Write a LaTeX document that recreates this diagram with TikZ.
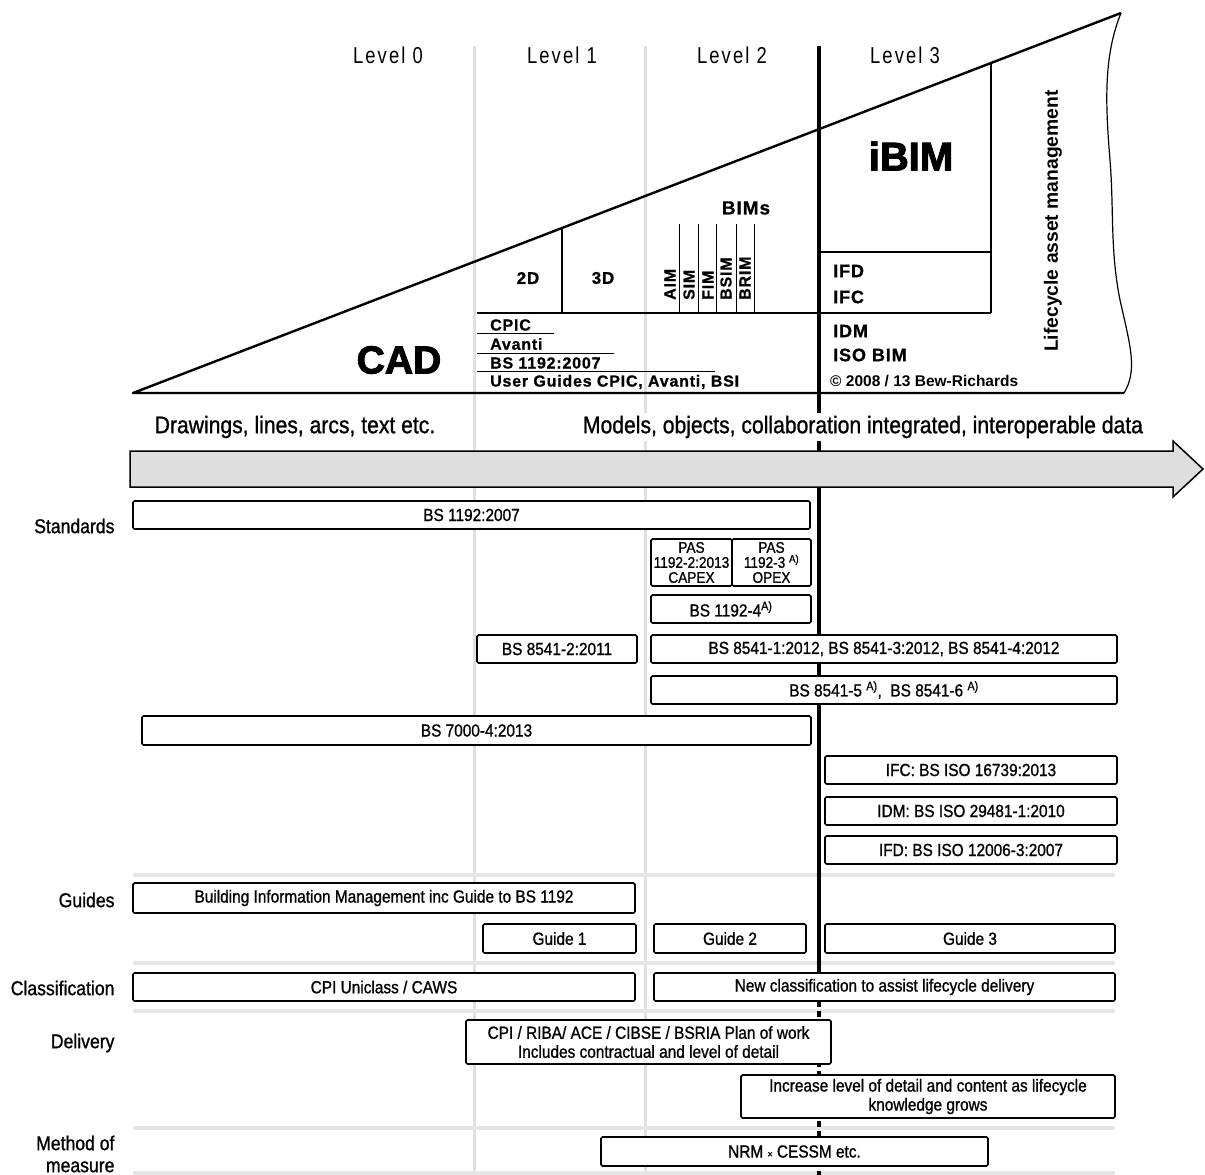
\documentclass[tikz,border=0pt]{standalone}
\usepackage{fontspec}
\setmainfont{Liberation Sans}
\newfontfamily\levelfont[FakeStretch=0.8,LetterSpace=9]{Liberation Sans}
\newfontfamily\trifont[LetterSpace=5,BoldFeatures={FakeBold=0.8}]{Liberation Sans}
\newfontfamily\boxfont[FakeStretch=0.88,UprightFeatures={FakeBold=1}]{Liberation Sans}
\newfontfamily\blackfont[BoldFeatures={FakeBold=2.5}]{Liberation Sans}
\begin{document}
\begin{tikzpicture}[x=1pt,y=-1pt,
  stdbox/.style={draw,line width=1.7pt,rounded corners=1.5pt,fill=white,inner sep=0pt,align=center,font=\boxfont\fontsize{17.5}{19}\selectfont},
  rowlab/.style={anchor=east,align=right,font=\boxfont\fontsize{20}{22}\selectfont},
  trilab/.style={inner sep=0pt,font=\trifont\bfseries\fontsize{16}{17}\selectfont},
  lvl/.style={font=\levelfont\fontsize{23}{24}\selectfont},
  grayline/.style={line width=3pt,black!12},
  sepline/.style={line width=4pt,black!10}]
\useasboundingbox (0,0) rectangle (1205,1175);
\foreach \x in {474,645} \draw[grayline] (\x,46) -- (\x,1175);
\foreach \y in {875,963,1011,1128,1173} \draw[sepline] (133,\y) -- (1115,\y);
\draw[line width=4pt] (819,46) -- (819,1001);
\draw[line width=4pt,dash pattern=on 6pt off 4pt] (819,1001) -- (819,1175);
\foreach \n/\x in {0/388,1/562,2/732,3/905} \node[lvl] (level\n) at (\x,55) {Level \n};
\path (133,393) coordinate (A) (1121,13) coordinate (B) (1124,393) coordinate (C);
\draw[line width=2.4pt,line join=round] (C) -- (A) -- (B);
\draw[line width=1.2pt] (B) .. controls (1104,55) and (1105,100) .. (1110,160)
  .. controls (1114,210) and (1110,250) .. (1120,300) .. controls (1130,345) and (1138,370) .. (C);
\draw[line width=2pt] (477,313) -- (991,313) (562,228) -- (562,313) (991,63) -- (991,313) (819,252) -- (991,252);
\draw[line width=1pt] (477,333) -- (554,333) (477,353) -- (614,353) (477,371) -- (715,371);
\foreach \x in {679,698,716,736,754} \draw[line width=1pt] (\x,224) -- (\x,313);
\node[font=\blackfont\bfseries\fontsize{39}{40}\selectfont] (cad) at (399,360) {CAD};
\node[trilab,font=\trifont\bfseries\fontsize{17}{18}\selectfont] (twod) at (528,278) {2D};
\node[trilab,font=\trifont\bfseries\fontsize{17}{18}\selectfont] (threed) at (603,278) {3D};
\node[trilab,font=\trifont\bfseries\fontsize{19}{20}\selectfont] (bims) at (746,208) {BIMs};
\foreach \t/\x in {AIM/670,SIM/689,FIM/708,BSIM/726,BRIM/745}
  \node[trilab,rotate=90,anchor=west] (\t) at (\x,300) {\t};
\foreach \t/\y [count=\i] in {CPIC/325,Avanti/344,BS 1192:2007/363,{User Guides CPIC, Avanti, BSI}/382}
  \node[trilab,anchor=west] (use\i) at (490,\y) {\t};
\node[font=\blackfont\bfseries\fontsize{40}{41}\selectfont] (ibim) at (911,156) {iBIM};
\foreach \t/\y [count=\i] in {IFD/271,IFC/297,IDM/331,ISO BIM/355}
  \node[anchor=west,inner sep=0pt,font=\trifont\bfseries\fontsize{18}{19}\selectfont] (lev\i) at (833,\y) {\t};
\node[anchor=west,inner sep=0pt,font=\bfseries\fontsize{15.5}{16}\selectfont] (copy) at (830,381) {© 2008 / 13 Bew-Richards};
\node[rotate=90,font=\bfseries\fontsize{19.3}{20}\selectfont] (lam) at (1053,221) {Lifecycle asset management};
\node[font=\boxfont\fontsize{24}{25}\selectfont] (drw) at (295,427) {Drawings, lines, arcs, text etc.};
\node[fill=white,inner sep=3pt,font=\boxfont\fontsize{24}{25}\selectfont] (mdl) at (863,427) {Models, objects, collaboration integrated, interoperable data};
\draw[line width=1.5pt,fill=black!13] (130,451) -- (1173,451) -- (1173,441) -- (1203,469) -- (1173,497) -- (1173,487) -- (130,487) -- cycle;
\node[rowlab] (lstd) at (118,526) {Standards};
\node[rowlab] (lgd) at (118,900) {Guides};
\node[rowlab] (lcl) at (118,988) {Classification};
\node[rowlab] (ldl) at (118,1043) {Delivery};
\node[rowlab] (lmm) at (118,1154) {Method of\\measure};
\foreach \nm/\xa/\ya/\xb/\yb/\txt in {
  bsa/133/501/810/529/{BS 1192:2007},
  bsb/651/595/811/623/{BS 1192-4\textsuperscript{A)}},
  bsc/477/635/637/663/{BS 8541-2:2011},
  bsd/651/635/1117/663/{BS 8541-1:2012, BS 8541-3:2012, BS 8541-4:2012},
  bse/651/676/1117/704/{BS 8541-5 \textsuperscript{A)},\ \ BS 8541-6 \textsuperscript{A)}},
  bsf/142/716/811/745/{BS 7000-4:2013},
  isoa/825/756/1117/784/{IFC: BS ISO 16739:2013},
  isob/825/797/1117/825/{IDM: BS ISO 29481-1:2010},
  isoc/825/836/1117/864/{IFD: BS ISO 12006-3:2007},
  gda/133/883/635/913/{Building Information Management inc Guide to BS 1192},
  gdb/483/924/636/953/{Guide 1},
  gdc/654/924/806/953/{Guide 2},
  gdd/825/924/1115/953/{Guide 3},
  cla/133/973/635/1001/{CPI Uniclass / CAWS},
  clb/654/973/1115/1001/{New classification to assist lifecycle delivery},
  dla/466/1020/831/1064/{CPI / RIBA/ ACE / CIBSE / BSRIA Plan of work\\Includes contractual and level of detail},
  dlb/741/1075/1115/1118/{Increase level of detail and content as lifecycle\\knowledge grows},
  nrm/601/1137/988/1166/{NRM {\fontsize{10}{10}\selectfont×} CESSM etc.}}
  \node[stdbox,minimum width=\xb-\xa,minimum height=\yb-\ya] (\nm) at ({(\xa+\xb)/2},{(\ya+\yb)/2}) {\txt};
\node[stdbox,font=\boxfont\fontsize{15.5}{15}\selectfont,minimum width=81,minimum height=47] (pasa) at (691.5,562.5) {PAS\\1192-2:2013\\CAPEX};
\node[stdbox,font=\boxfont\fontsize{15.5}{15}\selectfont,minimum width=79,minimum height=47] (pasb) at (771.5,562.5) {PAS\\1192-3 \textsuperscript{A)}\\OPEX};
\end{tikzpicture}
\end{document}
